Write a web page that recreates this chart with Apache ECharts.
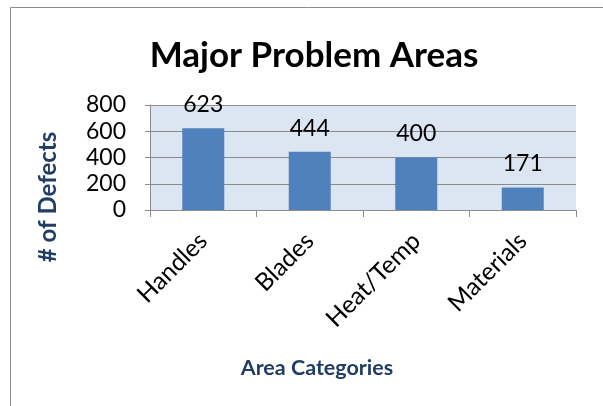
<!DOCTYPE html>
<html>
<head>
<meta charset="utf-8">
<script src="https://cdn.jsdelivr.net/npm/echarts@6/dist/echarts.min.js"></script>
<style>
html,body{margin:0;padding:0;background:#fff;}
#c{width:603px;height:406px;}
</style>
</head>
<body>
<div id="c"></div>
<script>
var categories = ['Handles', 'Blades', 'Heat/Temp', 'Materials'];
var defects = [623, 444, 400, 171];
var yTicks = [0, 200, 400, 600, 800];

var chart = echarts.init(document.getElementById('c'), null, {renderer: 'canvas'});
var FONT = 'Lato, "Open Sans", sans-serif';
chart.setOption({
  animation: false,
  backgroundColor: '#ffffff',
  title: {
    text: 'Major Problem Areas',
    left: 309, top: 33, textAlign: 'center',
    textStyle: {fontFamily: FONT, fontWeight: 'bold', fontSize: 35, color: '#000'}
  },
  graphic: [
    {type: 'rect', shape: {x: 10.5, y: 7.5, width: 620, height: 420},
     style: {fill: null, stroke: '#8c8c8c', lineWidth: 1}, z: 100},
    {type: 'text', x: 48, y: 197, rotation: Math.PI / 2,
     style: {text: '# of Defects', fontFamily: FONT, fontWeight: 'bold', fontSize: 24,
             fill: '#1f3d66', textAlign: 'center', textVerticalAlign: 'middle'}},
    {type: 'text', x: 317, y: 368,
     style: {text: 'Area Categories', fontFamily: FONT, fontWeight: 'bold', fontSize: 21.5,
             fill: '#1f3d66', textAlign: 'center', textVerticalAlign: 'middle'}}
  ],
  grid: {left: 150, right: 27, top: 105, bottom: 196, show: true,
         backgroundColor: '#dce6f2', borderWidth: 0},
  xAxis: {
    type: 'category', data: categories,
    axisLine: {lineStyle: {color: '#8c8c8c', width: 1}},
    axisTick: {show: true, alignWithLabel: false, length: 7, lineStyle: {color: '#8c8c8c'}},
    axisLabel: {rotate: 45, fontFamily: FONT, fontSize: 24.5, color: '#000', margin: 27, interval: 0}
  },
  yAxis: {
    type: 'value', min: 0, max: 800, interval: 200,
    axisLine: {show: true, lineStyle: {color: '#8c8c8c', width: 1}},
    axisTick: {show: true, length: 5, lineStyle: {color: '#8c8c8c'}},
    splitLine: {show: true, lineStyle: {color: '#8c8c8c', width: 1}},
    axisLabel: {fontFamily: FONT, fontSize: 23, color: '#000', margin: 24,
                formatter: function (v) { return yTicks.indexOf(v) >= 0 ? String(v) : ''; }}
  },
  series: [{
    type: 'bar', data: defects, barWidth: 42,
    itemStyle: {color: '#4f81bd'},
    label: {show: true, position: 'top', distance: 12, fontFamily: FONT, fontSize: 23, color: '#000'}
  }]
});
</script>
</body>
</html>
